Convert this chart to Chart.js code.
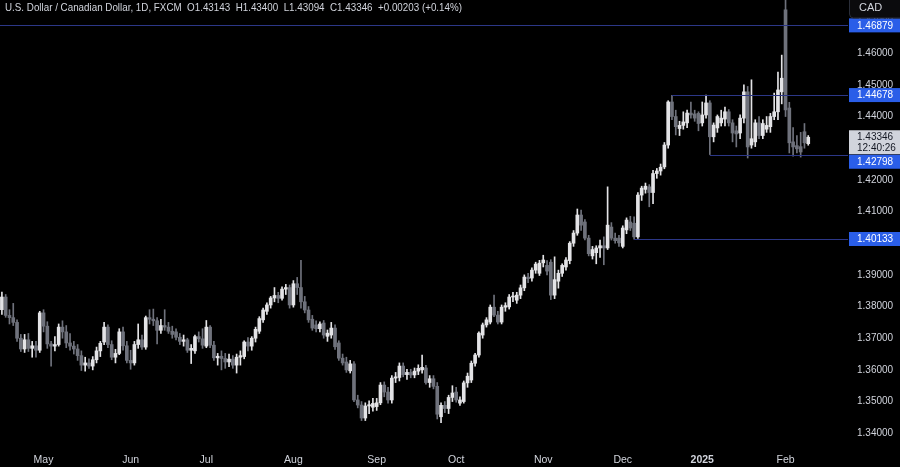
<!DOCTYPE html>
<html>
<head>
<meta charset="utf-8">
<title>USD/CAD 1D</title>
<script src="https://cdn.jsdelivr.net/npm/chart.js@4.4.1/dist/chart.umd.min.js"></script>
<style>
  html, body { margin: 0; padding: 0; background: #000; }
  #wrap { position: relative; width: 900px; height: 467px; }
</style>
</head>
<body>
<div id="wrap"><canvas id="fx" width="900" height="467"></canvas></div>
<script>
// ============================================
// USD/CAD daily candles, FXCM (Apr 2024 – Feb 2025)
// ============================================

// trading days per month (FXCM skips Dec 25 and Jan 1); the last Feb days are empty right margin
const monthDays = [
  ['2024-04', [16,17,18,19,22,23,24,25,26,29,30]],
  ['2024-05', [1,2,3,6,7,8,9,10,13,14,15,16,17,20,21,22,23,24,27,28,29,30,31]],
  ['2024-06', [3,4,5,6,7,10,11,12,13,14,17,18,19,20,21,24,25,26,27,28]],
  ['2024-07', [1,2,3,4,5,8,9,10,11,12,15,16,17,18,19,22,23,24,25,26,29,30,31]],
  ['2024-08', [1,2,5,6,7,8,9,12,13,14,15,16,19,20,21,22,23,26,27,28,29,30]],
  ['2024-09', [2,3,4,5,6,9,10,11,12,13,16,17,18,19,20,23,24,25,26,27,30]],
  ['2024-10', [1,2,3,4,7,8,9,10,11,14,15,16,17,18,21,22,23,24,25,28,29,30,31]],
  ['2024-11', [1,4,5,6,7,8,11,12,13,14,15,18,19,20,21,22,25,26,27,28,29]],
  ['2024-12', [2,3,4,5,6,9,10,11,12,13,16,17,18,19,20,23,24,26,27,30,31]],
  ['2025-01', [2,3,6,7,8,9,10,13,14,15,16,17,20,21,22,23,24,27,28,29,30,31]],
  ['2025-02', [3,4,5,6,7,10,11,12,13,14,17,18,19,20,21,24,25]]
];

const opens = [
  1.3790,1.3830,1.3772,1.3765,1.3750,1.3700,1.3666,1.3695,1.3668,1.3676,1.3662,
  1.3780,1.3738,1.3682,1.3675,1.3680,1.3735,1.3720,1.3685,1.3675,1.3666,1.3645,1.3615,1.3622,1.3612,1.3632,1.3660,1.3688,1.3735,1.3680,1.3640,1.3652,1.3720,1.3676,
  1.3630,1.3622,1.3680,1.3695,1.3672,1.3765,1.3760,1.3755,1.3725,1.3740,1.3735,1.3722,1.3720,1.3703,1.3690,1.3695,1.3662,1.3660,1.3705,1.3698,
  1.3675,1.3735,1.3678,1.3638,1.3643,1.3636,1.3625,1.3634,1.3615,1.3640,1.3642,1.3688,1.3675,1.3700,1.3722,1.3758,1.3785,1.3805,1.3827,1.3835,1.3826,1.3855,1.3860,
  1.3805,1.3872,1.3860,1.3815,1.3789,1.3760,1.3742,1.3730,1.3748,1.3706,1.3710,1.3732,1.3685,1.3637,1.3625,1.3597,1.3619,1.3505,1.3489,1.3448,1.3486,1.3482,
  1.3484,1.3496,1.3552,1.3530,1.3505,1.3574,1.3576,1.3612,1.3585,1.3592,1.3584,1.3596,1.3600,1.3606,1.3560,1.3572,1.3548,1.3452,1.3488,1.3478,1.3513,
  1.3530,1.3495,1.3500,1.3559,1.3568,1.3621,1.3647,1.3710,1.3742,1.3751,1.3798,1.3773,1.3751,1.3798,1.3799,1.3830,1.3820,1.3836,1.3859,1.3893,1.3890,1.3915,1.3905,
  1.3938,1.3930,1.3940,1.3836,1.3880,1.3905,1.3925,1.3945,1.4000,1.4032,1.4089,1.4067,1.4016,1.3960,1.3970,1.3985,1.3992,1.3985,1.4051,1.4016,1.4016,
  1.3990,1.4042,1.4067,1.4063,1.4020,1.4152,1.4170,1.4178,1.4160,1.4220,1.4228,1.4241,1.4310,1.4446,1.4400,1.4362,1.4372,1.4380,1.4411,1.4408,1.4410,
  1.4380,1.4405,1.4443,1.4336,1.4364,1.4380,1.4392,1.4415,1.4380,1.4355,1.4348,1.4395,1.4478,1.4310,1.4320,1.4380,1.4340,1.4360,1.4368,1.4400,1.4415,1.4478,
  1.4737,1.4427,1.4320,1.4308,1.4305,1.4352,1.43143
];

const highs = [
  1.3846,1.3838,1.3790,1.3810,1.3758,1.3712,1.3712,1.3715,1.3690,1.3690,1.3785,
  1.3790,1.3752,1.3690,1.3705,1.3745,1.3755,1.3740,1.3715,1.3690,1.3680,1.3660,1.3640,1.3635,1.3642,1.3672,1.3690,1.3750,1.3742,1.3692,1.3665,1.3730,1.3735,1.3690,
  1.3662,1.3690,1.3745,1.3710,1.3770,1.3790,1.3792,1.3765,1.3760,1.3790,1.3750,1.3738,1.3730,1.3715,1.3710,1.3700,1.3680,1.3710,1.3720,1.3730,
  1.3756,1.3740,1.3690,1.3652,1.3660,1.3652,1.3650,1.3645,1.3650,1.3660,1.3692,1.3702,1.3705,1.3735,1.3768,1.3795,1.3812,1.3832,1.3860,1.3845,1.3862,1.3870,1.3868,
  1.3882,1.3892,1.3946,1.3832,1.3800,1.3772,1.3755,1.3752,1.3756,1.3726,1.3750,1.3742,1.3692,1.3650,1.3640,1.3630,1.3626,1.3520,1.3500,1.3496,1.3502,1.3510,
  1.3510,1.3560,1.3562,1.3545,1.3582,1.3592,1.3622,1.3622,1.3602,1.3602,1.3606,1.3616,1.3647,1.3614,1.3582,1.3582,1.3560,1.3496,1.3500,1.3520,1.3550,
  1.3545,1.3515,1.3565,1.3590,1.3628,1.3652,1.3720,1.3748,1.3765,1.3805,1.3836,1.3785,1.3805,1.3812,1.3838,1.3845,1.3845,1.3868,1.3900,1.3905,1.3922,1.3940,1.3946,
  1.3962,1.3945,1.3948,1.3957,1.3915,1.3935,1.3955,1.4005,1.4040,1.4108,1.4105,1.4075,1.4025,1.3990,1.3992,1.4010,1.4020,1.4178,1.4065,1.4032,1.4025,
  1.4055,1.4080,1.4085,1.4083,1.4160,1.4180,1.4190,1.4185,1.4230,1.4236,1.4250,1.4318,1.4450,1.4467,1.4420,1.4385,1.4415,1.4420,1.4446,1.4420,1.4415,
  1.4446,1.4468,1.4450,1.4380,1.4405,1.4420,1.4430,1.4422,1.4390,1.4370,1.4405,1.4500,1.4495,1.4516,1.4390,1.4400,1.4390,1.4400,1.4410,1.4474,1.4540,1.4594,
  1.4793,1.4445,1.4365,1.4340,1.4350,1.4378,1.43400
];

const lows = [
  1.3775,1.3766,1.3745,1.3740,1.3690,1.3658,1.3655,1.3658,1.3640,1.3640,1.3655,
  1.3720,1.3668,1.3612,1.3660,1.3675,1.3700,1.3670,1.3662,1.3650,1.3630,1.3598,1.3596,1.3605,1.3600,1.3622,1.3642,1.3680,1.3670,1.3632,1.3622,1.3648,1.3662,1.3622,
  1.3602,1.3615,1.3668,1.3665,1.3665,1.3745,1.3740,1.3682,1.3715,1.3725,1.3715,1.3700,1.3695,1.3680,1.3675,1.3655,1.3620,1.3652,1.3688,1.3668,
  1.3670,1.3670,1.3630,1.3615,1.3600,1.3605,1.3610,1.3605,1.3590,1.3615,1.3635,1.3660,1.3662,1.3688,1.3715,1.3750,1.3775,1.3795,1.3815,1.3812,1.3820,1.3838,1.3795,
  1.3798,1.3838,1.3795,1.3780,1.3750,1.3725,1.3720,1.3720,1.3700,1.3690,1.3700,1.3665,1.3630,1.3615,1.3592,1.3590,1.3500,1.3480,1.3440,1.3440,1.3462,1.3470,
  1.3472,1.3490,1.3515,1.3495,1.3495,1.3560,1.3565,1.3578,1.3570,1.3575,1.3575,1.3585,1.3590,1.3555,1.3545,1.3540,1.3445,1.3433,1.3465,1.3462,1.3500,
  1.3498,1.3488,1.3495,1.3545,1.3560,1.3612,1.3640,1.3700,1.3735,1.3745,1.3768,1.3745,1.3745,1.3785,1.3792,1.3815,1.3810,1.3825,1.3850,1.3875,1.3880,1.3905,1.3898,
  1.3925,1.3900,1.3822,1.3825,1.3858,1.3895,1.3915,1.3935,1.3990,1.4025,1.4040,1.4010,1.3960,1.3950,1.3935,1.3955,1.3932,1.3980,1.4010,1.4000,1.3990,
  1.3985,1.4030,1.4040,1.4013,1.4015,1.4135,1.4158,1.4115,1.4125,1.4205,1.4215,1.4235,1.4300,1.4390,1.4342,1.4340,1.4360,1.4365,1.4395,1.4385,1.4355,
  1.4370,1.4395,1.4280,1.4320,1.4350,1.4370,1.4370,1.4370,1.4320,1.4304,1.4330,1.4380,1.4269,1.4300,1.4305,1.4330,1.4330,1.4350,1.4350,1.4390,1.4390,1.4440,
  1.4400,1.4285,1.4275,1.4285,1.4272,1.4300,1.43094
];

const closes = [
  1.3830,1.3772,1.3765,1.3750,1.3700,1.3666,1.3695,1.3668,1.3676,1.3662,1.3780,
  1.3738,1.3682,1.3675,1.3680,1.3735,1.3720,1.3685,1.3675,1.3666,1.3645,1.3615,1.3622,1.3612,1.3632,1.3660,1.3684,1.3735,1.3680,1.3640,1.3652,1.3720,1.3676,1.3630,
  1.3622,1.3680,1.3695,1.3672,1.3765,1.3760,1.3755,1.3725,1.3740,1.3735,1.3722,1.3712,1.3703,1.3690,1.3695,1.3662,1.3668,1.3705,1.3698,1.3678,
  1.3735,1.3678,1.3638,1.3643,1.3636,1.3625,1.3634,1.3615,1.3640,1.3645,1.3688,1.3675,1.3700,1.3728,1.3762,1.3789,1.3805,1.3827,1.3835,1.3826,1.3855,1.3860,1.3805,
  1.3872,1.3860,1.3815,1.3789,1.3758,1.3732,1.3730,1.3745,1.3710,1.3716,1.3732,1.3673,1.3637,1.3622,1.3600,1.3619,1.3505,1.3489,1.3448,1.3486,1.3490,1.3494,
  1.3496,1.3552,1.3530,1.3505,1.3574,1.3578,1.3612,1.3585,1.3592,1.3584,1.3596,1.3605,1.3608,1.3560,1.3572,1.3548,1.3460,1.3488,1.3478,1.3513,1.3527,
  1.3505,1.3505,1.3559,1.3580,1.3621,1.3647,1.3716,1.3742,1.3758,1.3798,1.3773,1.3751,1.3798,1.3803,1.3830,1.3833,1.3836,1.3859,1.3893,1.3888,1.3915,1.3934,1.3937,
  1.3947,1.3912,1.3836,1.3885,1.3905,1.3930,1.3947,1.4000,1.4032,1.4089,1.4057,1.4016,1.3967,1.3980,1.3985,1.3992,1.3985,1.4057,1.4016,1.4008,1.4001,
  1.4048,1.4073,1.4048,1.4020,1.4152,1.4174,1.4180,1.4160,1.4220,1.4228,1.4240,1.4310,1.4446,1.4400,1.4368,1.4372,1.4383,1.4411,1.4405,1.4395,1.4378,
  1.4405,1.4443,1.4336,1.4373,1.4400,1.4395,1.4415,1.4380,1.4348,1.4345,1.4395,1.4478,1.4304,1.4330,1.4380,1.4340,1.4378,1.4372,1.4400,1.4415,1.4484,1.4521,
  1.4421,1.4317,1.4304,1.4298,1.4288,1.4317,1.43346
];

// horizontal levels and the day each drawing starts on (null = from left edge)
const levelPrices = [1.46879, 1.44678, 1.42798, 1.40133];
const levelStart  = [null, '2024-12-19', '2025-01-06', '2024-12-05'];

const yTicks = { min: 1.3347, max: 1.4768, step: 0.01 };
const headerText = 'U.S. Dollar / Canadian Dollar, 1D, FXCM  O1.43143  H1.43400  L1.43094  C1.43346  +0.00203 (+0.14%)';
const countdown = '12:40:26';
const quoteCcy = 'CAD';

const UP = '#e3e3e6', DOWN = '#6f727c', TEXT = '#d1d4dc';
const LEVEL_LINE = '#2c3787', LEVEL_BOX = '#2a5ee8';
const FONT = 'Liberation Sans';
const MONTHS = ['Jan','Feb','Mar','Apr','May','Jun','Jul','Aug','Sep','Oct','Nov','Dec'];

// category labels + month tick text
const labels = [];
const tickText = [];
monthDays.forEach(([ym, days], m) => {
  days.forEach((d, j) => {
    labels.push(`${ym}-${String(d).padStart(2, '0')}`);
    let t = '';
    if (j === 0 && m > 0) {
      const [yy, mm] = ym.split('-').map(Number);
      t = mm === 1 ? String(yy) : MONTHS[mm - 1];
    }
    tickText.push(t);
  });
});

const bodies = labels.map((_, i) => i < closes.length ? [opens[i], closes[i]] : null);
const wicks  = labels.map((_, i) => i < closes.length ? [lows[i], highs[i]] : null);
const colors = labels.map((_, i) => i < closes.length && closes[i] >= opens[i] ? UP : DOWN);

function box(ctx, x, y, w, h, fill) {
  ctx.fillStyle = fill;
  ctx.fillRect(x, y, w, h);
}

const overlay = {
  id: 'overlay',
  afterDatasetsDraw(chart) {
    const { ctx, chartArea: a, scales: { x, y } } = chart;
    ctx.save();
    ctx.strokeStyle = LEVEL_LINE;
    ctx.lineWidth = 1;
    levelPrices.forEach((p, k) => {
      const py = Math.round(y.getPixelForValue(p)) + 0.5;
      const sx = levelStart[k] ? x.getPixelForValue(labels.indexOf(levelStart[k])) : a.left;
      ctx.beginPath();
      ctx.moveTo(sx, py);
      ctx.lineTo(a.right, py);
      ctx.stroke();
    });
    ctx.restore();
  },
  afterDraw(chart) {
    const { ctx, chartArea: a, scales: { y } } = chart;
    const bx = a.right + 1, bw = chart.width - bx;
    ctx.save();
    ctx.font = `10px ${FONT}`;
    ctx.textBaseline = 'middle';
    ctx.textAlign = 'left';

    // last price + countdown
    const last = closes[closes.length - 1];
    const ly = y.getPixelForValue(last);
    const curTop = ly - 7, curBot = ly + 17;
    box(ctx, bx, curTop, bw, curBot - curTop, '#d1d4dc');
    ctx.fillStyle = '#131722';
    ctx.fillText(last.toFixed(5), bx + 8, ly);
    ctx.fillText(countdown, bx + 8, ly + 11);

    // level labels, pushed off the last-price box when they collide
    levelPrices.forEach(p => {
      let py = y.getPixelForValue(p);
      if (py + 7 > curTop && py - 7 < curBot) py = py > ly + 5 ? curBot + 7.5 : curTop - 7.5;
      box(ctx, bx, py - 7, bw, 14, LEVEL_BOX);
      ctx.fillStyle = '#ffffff';
      ctx.fillText(p.toFixed(5), bx + 8, py + 0.5);
    });

    // currency box top right
    ctx.fillStyle = '#0b0b0d';
    ctx.strokeStyle = '#2a2e39';
    ctx.beginPath();
    ctx.roundRect(bx + 0.5, -4, bw + 4, 22, 4);
    ctx.fill();
    ctx.stroke();
    ctx.fillStyle = TEXT;
    ctx.font = `11px ${FONT}`;
    ctx.fillText(quoteCcy, bx + 10, 8);

    // header
    ctx.font = `11.5px ${FONT}`;
    const w = ctx.measureText(headerText).width;
    const target = 457;
    ctx.translate(5, 8);
    if (w > target) ctx.scale(target / w, 1);
    ctx.fillText(headerText, 0, 0);
    ctx.restore();
  }
};

new Chart(document.getElementById('fx'), {
  type: 'bar',
  data: {
    labels,
    datasets: [
      { label: 'body', data: bodies, backgroundColor: colors, barThickness: 3, minBarLength: 1, grouped: false },
      { label: 'wick', data: wicks, backgroundColor: colors, barThickness: 1, grouped: false }
    ]
  },
  options: {
    responsive: false,
    animation: false,
    devicePixelRatio: 1,
    layout: { padding: 0 },
    plugins: { legend: { display: false }, tooltip: { enabled: false } },
    scales: {
      x: {
        offset: true,
        grid: { display: false, drawTicks: false },
        border: { display: false },
        ticks: {
          autoSkip: false, maxRotation: 0, minRotation: 0, padding: 4,
          color: TEXT,
          font: c => ({ family: FONT, size: 10.5, weight: tickText[c.index] === '2025' ? 'bold' : 'normal' }),
          callback: (v, i) => tickText[i]
        },
        afterFit(s) { s.height = 17; s.paddingLeft = 0; s.paddingRight = 0; }
      },
      y: {
        position: 'right',
        min: yTicks.min, max: yTicks.max,
        grid: { display: false, drawTicks: false },
        border: { display: false },
        ticks: {
          stepSize: yTicks.step, includeBounds: false, padding: 9,
          color: TEXT, font: { family: FONT, size: 10 },
          callback: v => v.toFixed(5)
        },
        afterFit(s) { s.width = 52; s.paddingTop = 0; s.paddingBottom = 0; }
      }
    }
  },
  plugins: [overlay]
});
</script>
</body>
</html>
